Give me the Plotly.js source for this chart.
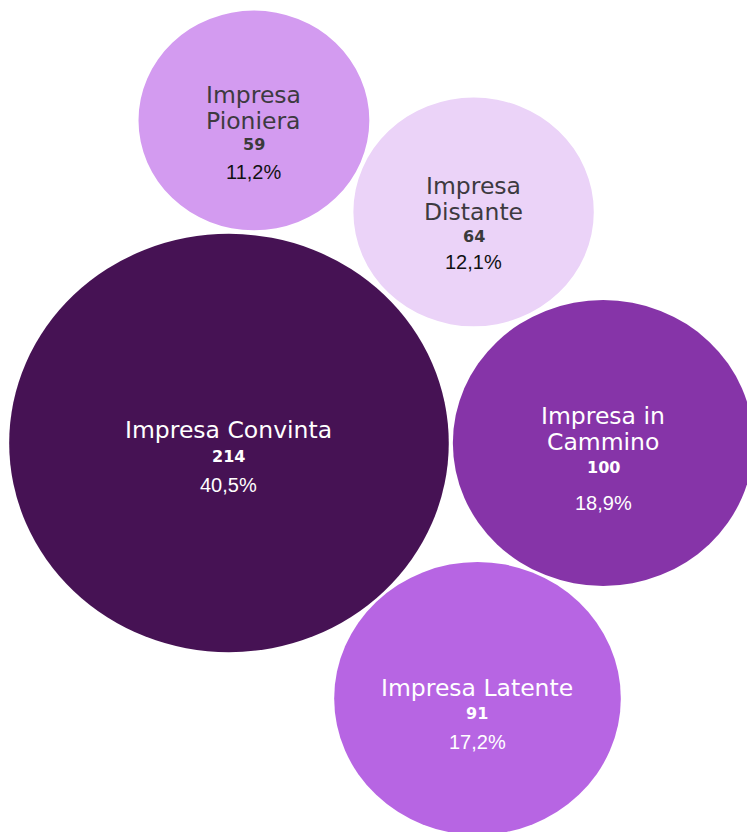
<!DOCTYPE html>
<html>
<head>
<meta charset="utf-8">
<script src="https://cdn.plot.ly/plotly-3.0.1.min.js"></script>
<style>html,body{margin:0;padding:0;background:#fff;}#chart{width:747px;height:832px;}</style>
</head>
<body>
<div id="chart"></div>
<script>
// ---- data ----
var names = ["Impresa<br>Pioniera", "Impresa<br>Distante", "Impresa Convinta", "Impresa in<br>Cammino", "Impresa Latente"];
var counts = [59, 64, 214, 100, 91];
var percents = ["11,2%", "12,1%", "40,5%", "18,9%", "17,2%"];

// ---- layout (bubble centres, in axis units) ----
var posX = [8.45, 15.76, 7.62, 20.07, 15.89];
var posY = [4.21, 7.41, 15.49, 15.49, 24.42];

// ---- styles ----
var fills = ["#d39bf0", "#ebd3f8", "#461254", "#8634a8", "#b765e3"];
var nameColors = ["#3d3a40", "#3d3a40", "#ffffff", "#ffffff", "#ffffff"];
var valColors = ["#3a3a3a", "#3a3a3a", "#ffffff", "#ffffff", "#ffffff"];
var pctColors = ["#111111", "#111111", "#ffffff", "#ffffff", "#ffffff"];
// vertical offsets (px, downward from centre) of name block centre, count, percent
var nameOff = [-12, -13, -13, -14, -10.5];
var valOff = [24, 25, 13, 24, 15.5];
var pctOff = [51.5, 50.5, 42, 60, 43.5];
var lineGap = 26;

var shapes = [];
var annotations = [];
for (var i = 0; i < counts.length; i++) {
  var r = Math.sqrt(counts[i]) / 2;
  shapes.push({
    type: "circle", xref: "x", yref: "y", layer: "below",
    x0: posX[i] - r, x1: posX[i] + r, y0: posY[i] - r, y1: posY[i] + r,
    fillcolor: fills[i], line: {width: 0}
  });
  var lines = names[i].split("<br>");
  for (var j = 0; j < lines.length; j++) {
    var off = nameOff[i] + (j - (lines.length - 1) / 2) * lineGap;
    annotations.push({
      x: posX[i], y: posY[i], xref: "x", yref: "y", showarrow: false,
      text: lines[j], yshift: -off, yanchor: "middle",
      font: {family: "DejaVu Sans, sans-serif", size: 23.5, color: nameColors[i]}
    });
  }
  annotations.push({
    x: posX[i], y: posY[i], xref: "x", yref: "y", showarrow: false,
    text: "<b>" + counts[i] + "</b>", yshift: -valOff[i], yanchor: "middle",
    font: {family: "DejaVu Sans, sans-serif", size: 16, color: valColors[i]}
  });
  annotations.push({
    x: posX[i], y: posY[i], xref: "x", yref: "y", showarrow: false,
    text: percents[i], yshift: -pctOff[i], yanchor: "middle",
    font: {family: "Liberation Sans, Arial, sans-serif", size: 20, color: pctColors[i]}
  });
}

var trace = {
  type: "scatter", mode: "markers",
  x: posX, y: posY,
  marker: {size: 1, opacity: 0},
  text: names.map(function(n, i){ return n.replace("<br>", " ") + ": " + counts[i] + " (" + percents[i] + ")"; }),
  hoverinfo: "text"
};

var layout = {
  width: 747, height: 832,
  margin: {l: 0, r: 0, t: 0, b: 0},
  paper_bgcolor: "#ffffff", plot_bgcolor: "#ffffff",
  showlegend: false,
  xaxis: {range: [0, 747 / 30.05], visible: false, fixedrange: true},
  yaxis: {range: [832 / 28.6, 0], visible: false, fixedrange: true},
  shapes: shapes,
  annotations: annotations
};

Plotly.newPlot("chart", [trace], layout, {displayModeBar: false, staticPlot: true});
</script>
</body>
</html>
